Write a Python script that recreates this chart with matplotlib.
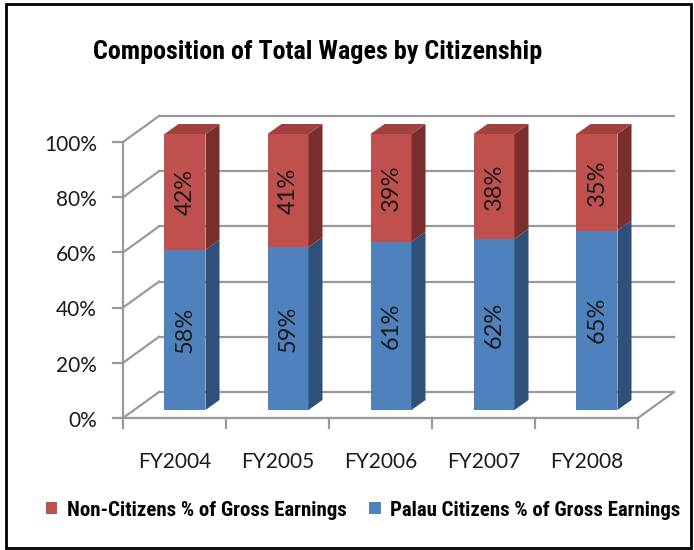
import numpy as np
import matplotlib
matplotlib.use("Agg")
import matplotlib.pyplot as plt
from matplotlib.patches import Polygon, Rectangle, Patch

# chart data
years = ["FY2004", "FY2005", "FY2006", "FY2007", "FY2008"]
palau_pct = [58, 59, 61, 62, 65]
noncit_pct = [42, 41, 39, 38, 35]
series_names = ["Non-Citizens % of Gross Earnings", "Palau Citizens % of Gross Earnings"]
y_ticks = [0, 20, 40, 60, 80, 100]

RED, RED_SIDE, RED_TOP = "#C0504D", "#7A2F2D", "#A3403D"
BLUE, BLUE_SIDE = "#4F81BD", "#2F5078"
GRID = "#9a9a9a"
NARROW = ["Roboto Condensed", "Liberation Sans Narrow", "Roboto", "DejaVu Sans"]

W, H = 694, 550
PX_X = 103.0   # pixels per category
PX_Y = 2.76    # pixels per percent
X0, Y0 = 123, 418   # front-left corner of floor in pixels

fig = plt.figure(figsize=(W / 100, H / 100), dpi=100)
ax = fig.add_axes([0, 0, 1, 1])
ax.set_xlim(-X0 / PX_X, (W - X0) / PX_X)
ax.set_ylim((Y0 - H) / PX_Y, Y0 / PX_Y)
ax.axis("off")


def off(dx_px, dy_px):
    return dx_px / PX_X, dy_px / PX_Y


n = len(years)
wall_dx, wall_dy = off(36, 26)

# back wall + left wall gridlines
for v in y_ticks:
    ax.plot([wall_dx, n + wall_dx], [v + wall_dy, v + wall_dy], color=GRID, lw=1.6, zorder=1)
    ax.plot([0, wall_dx], [v, v + wall_dy], color=GRID, lw=1.6, zorder=1)
# floor
ax.plot([0, n, n + wall_dx], [0, 0, wall_dy], color=GRID, lw=1.6, zorder=1)
# vertical axis with ticks
ax.plot([0, 0], [0, 100], color=GRID, lw=1.6, zorder=1)
tick_len = 10 / PX_X
for v in y_ticks:
    ax.plot([-tick_len, 0], [v, v], color=GRID, lw=1.6, zorder=1)
    ax.text(-26 / PX_X, v - 1, f"{v}%", ha="right", va="center",
            fontsize=15, family="Lato", color="#1a1a1a")
for i in range(n + 1):
    ax.plot([i, i], [0, -10 / PX_Y], color=GRID, lw=1.6, zorder=1)
for i, yr in enumerate(years):
    ax.text(i + 0.5, -44 / PX_Y, yr, ha="center", va="center",
            fontsize=15, family="Lato", color="#1a1a1a")

# 3D stacked bars
shift_dx, shift_dy = off(10.5, 8)
bar_w = 41 / PX_X
depth_dx, depth_dy = off(14, 10)
x = np.arange(n) + 0.5 + shift_dx

for i in range(n):
    segs = [(shift_dy, palau_pct[i], BLUE, BLUE_SIDE, None),
            (shift_dy + palau_pct[i], noncit_pct[i], RED, RED_SIDE, RED_TOP)]
    xl, xr = x[i] - bar_w / 2, x[i] + bar_w / 2
    for bottom, val, front, side, top in segs:
        ax.bar(x[i], val, bottom=bottom, width=bar_w, color=front, lw=0, zorder=3)
        y1 = bottom + val
        ax.add_patch(Polygon([(xr, bottom), (xr + depth_dx, bottom + depth_dy),
                              (xr + depth_dx, y1 + depth_dy), (xr, y1)],
                             closed=True, fc=side, ec="none", zorder=3))
        if top is not None:
            ax.add_patch(Polygon([(xl, y1), (xl + depth_dx, y1 + depth_dy),
                                  (xr + depth_dx, y1 + depth_dy), (xr, y1)],
                                 closed=True, fc=top, ec="none", zorder=3))
        ax.text(x[i], bottom + val / 2, f"{val}%", rotation=90, ha="center", va="center",
                fontsize=17, family="Lato", color="#1a1a1a", zorder=4)

# title
fig.text(318 / W, 1 - 52 / H, "Composition of Total Wages by Citizenship",
         ha="center", va="center", fontsize=18.8, fontweight="bold", family=NARROW)

# legend
handles = [Patch(fc=RED, ec="none"), Patch(fc=BLUE, ec="none")]
fig.legend(handles, series_names, ncol=2, loc="center",
           bbox_to_anchor=(363 / W, 1 - 510 / H), frameon=False,
           handlelength=0.55, handleheight=0.55, handletextpad=0.45, columnspacing=1.1,
           prop={"family": NARROW, "weight": "bold", "size": 15})

# outer frame
fig.patches.append(Rectangle((6 / W, 2 / H), 685 / W, 544 / H, transform=fig.transFigure,
                             fill=False, ec="black", lw=2))

fig.savefig("out.png", dpi=100)
